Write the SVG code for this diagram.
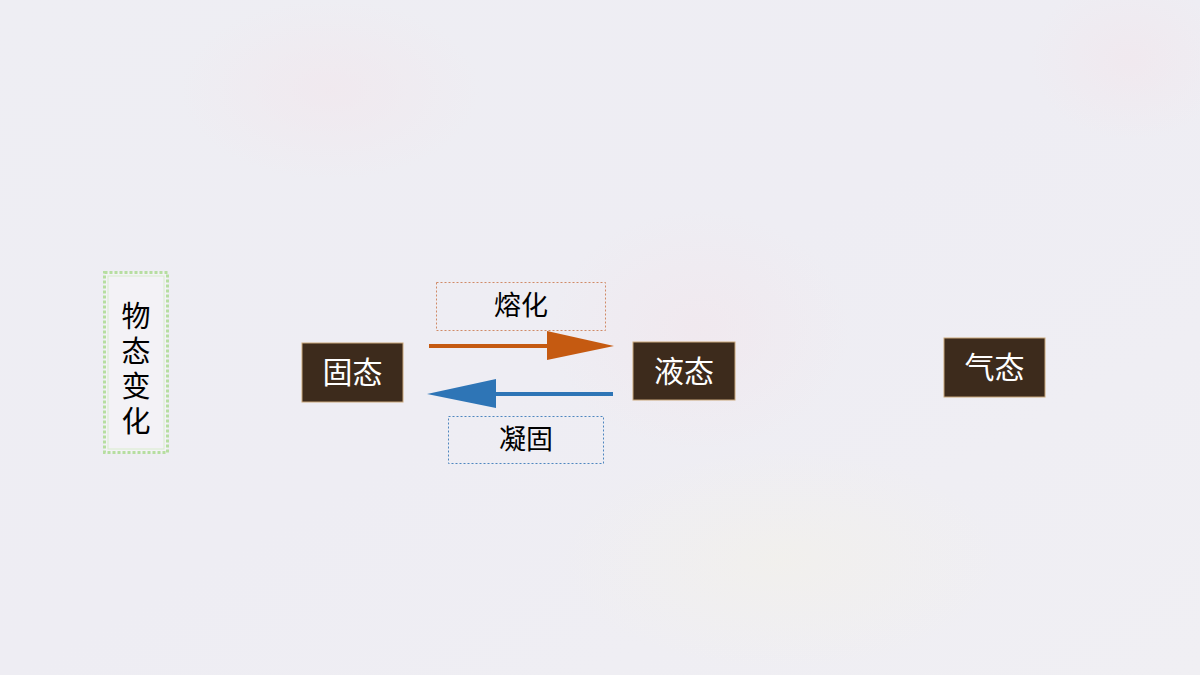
<svg xmlns="http://www.w3.org/2000/svg" width="1200" height="675" viewBox="0 0 1200 675">
<defs>
<linearGradient id="bg" x1="0" y1="0" x2="1" y2="1">
<stop offset="0" stop-color="#eeeef3"/>
<stop offset="0.5" stop-color="#eeedf3"/>
<stop offset="1" stop-color="#f0eff3"/>
</linearGradient>
<radialGradient id="pink" cx="0.5" cy="0.5" r="0.5">
<stop offset="0" stop-color="#f2e6ec" stop-opacity="0.6"/>
<stop offset="1" stop-color="#f2e6ec" stop-opacity="0"/>
</radialGradient>
<radialGradient id="yel" cx="0.5" cy="0.5" r="0.5">
<stop offset="0" stop-color="#f3f1e9" stop-opacity="0.6"/>
<stop offset="1" stop-color="#f3f1e9" stop-opacity="0"/>
</radialGradient>
<style>
.state rect{fill:#3d2b1c;stroke:#c9a77a;stroke-width:1}
.state text{fill:#ffffff;font-family:"Noto Sans CJK SC","Noto Sans CJK TC",sans-serif;font-size:30px;text-anchor:middle}
.lbl text{fill:#000;font-family:"Noto Sans CJK SC",sans-serif;font-size:27px;text-anchor:middle}
</style>
</defs>
<rect width="1200" height="675" fill="url(#bg)"/>
<ellipse cx="330" cy="90" rx="150" ry="90" fill="url(#pink)"/>
<ellipse cx="700" cy="330" rx="150" ry="120" fill="url(#pink)"/>
<ellipse cx="780" cy="560" rx="220" ry="110" fill="url(#yel)"/>
<ellipse cx="1130" cy="60" rx="100" ry="80" fill="url(#pink)"/>

<g id="title">
<rect x="104.5" y="272.5" width="63" height="180" fill="#f3f2f6" stroke="#b6dea0" stroke-width="3" stroke-dasharray="3 2"/>
<rect x="108" y="276" width="56" height="173" fill="none" stroke="#d8eccc" stroke-width="1"/>
<text x="136" y="371" writing-mode="vertical-rl" font-family="Noto Sans CJK SC,sans-serif" font-size="29" letter-spacing="6" fill="#000" text-anchor="middle">物态变化</text>
</g>

<g id="solid" class="state">
<rect x="302" y="343" width="101" height="59"/>
<text x="352.5" y="383">固态</text>
</g>
<g id="liquid" class="state">
<rect x="633" y="342" width="102" height="58"/>
<text x="684" y="382">液态</text>
</g>
<g id="gas" class="state">
<rect x="944" y="338" width="101" height="59"/>
<text x="994.5" y="378">气态</text>
</g>

<g id="melt-label" class="lbl">
<rect x="436.5" y="282.5" width="169" height="48" fill="none" stroke="#d08a66" stroke-width="1" stroke-dasharray="2 2"/>
<text x="521" y="315">熔化</text>
</g>
<g id="freeze-label" class="lbl">
<rect x="448.5" y="416.5" width="155" height="47" fill="none" stroke="#4f86bf" stroke-width="1" stroke-dasharray="2 2"/>
<text x="526" y="449">凝固</text>
</g>

<g id="connectors">
<line x1="429" y1="346" x2="550" y2="346" stroke="#c55a11" stroke-width="4"/>
<polygon points="547,331 614,346 547,360" fill="#c55a11"/>
<line x1="613" y1="394" x2="494" y2="394" stroke="#2e75b6" stroke-width="4"/>
<polygon points="496,379 427,394 496,408" fill="#2e75b6"/>
</g>
</svg>
